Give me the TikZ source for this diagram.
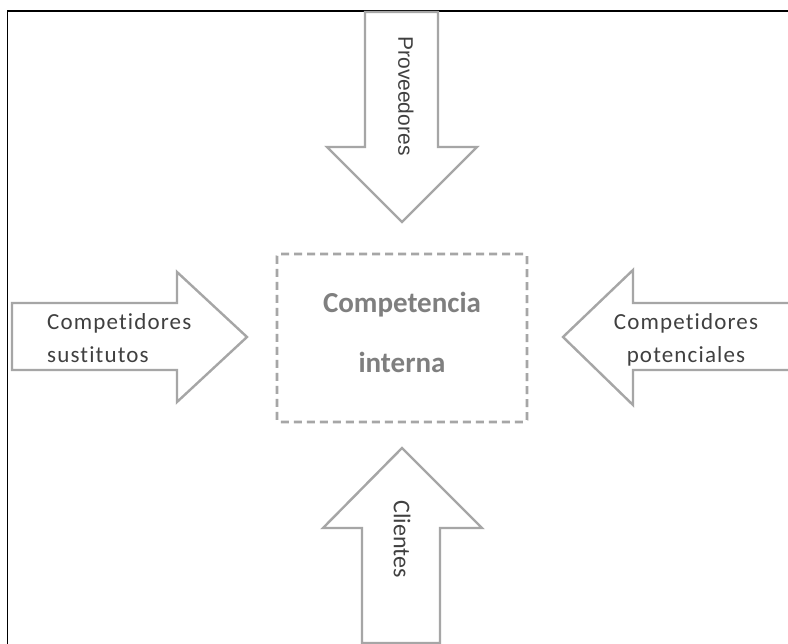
\documentclass[tikz,border=0pt]{standalone}
\usepackage{fontspec}
\setmainfont{Carlito}[RawFeature=-liga]
\newfontfamily\arialfont{Liberation Sans}
\newfontfamily\spacedfont[LetterSpace=5,RawFeature=-liga]{Carlito}
\definecolor{arrowgray}{HTML}{A6A6A6}
\definecolor{labelgray}{HTML}{404040}
\definecolor{titlegray}{HTML}{7F7F7F}
\begin{document}
\begin{tikzpicture}[x=1pt,y=-1pt,
  bigarrow/.style={draw=arrowgray,line width=2.4pt,fill=white,line join=miter},
  label/.style={text=labelgray,inner sep=0pt},
  sidelabel/.style={label,font=\spacedfont\fontsize{23}{33}\selectfont},
  corebox/.style={draw=arrowgray,line width=2.8pt,dash pattern=on 8pt off 5pt,rounded corners=2pt}]
\useasboundingbox (0,0) rectangle (788,644);
\fill[white] (0,0) rectangle (788,644);
% outer frame (top and left edges)
\draw[black,line width=1.6pt] (788,11) -- (7.5,11) -- (7.5,644);

% top arrow: Proveedores
\draw[bigarrow] (365,12) -- (438,12) -- (438,147) -- (477,147) -- (402,222)
  -- (327,147) -- (365,147) -- cycle;
\node[label,font=\arialfont\fontsize{21}{21}\selectfont,rotate=-90] (prov) at (406,96) {Proveedores};

% bottom arrow: Clientes
\draw[bigarrow] (362,643) -- (362,528) -- (323,528) -- (402,448) -- (482,528)
  -- (440,528) -- (440,643) -- cycle;
\node[label,font=\fontsize{24}{24}\selectfont,rotate=-90] (cli) at (402,539) {Clientes};

% left arrow: Competidores sustitutos
\draw[bigarrow] (12,303) -- (177,303) -- (177,272) -- (247,337) -- (177,402)
  -- (177,370) -- (12,370) -- cycle;
\node[sidelabel,align=left,anchor=base west] (sust) at (47,363) {Competidores\\sustitutos};

% right arrow: Competidores potenciales
\draw[bigarrow] (790,303) -- (633,303) -- (633,270) -- (563,337) -- (633,405)
  -- (633,370) -- (790,370);
\node[sidelabel,align=center,anchor=base] (pot) at (686,363) {Competidores\\potenciales};

% central dashed box
\draw[corebox] (277,254) rectangle (527,422);
\node[text=titlegray,inner sep=0pt,font=\bfseries\fontsize{29}{60}\selectfont,align=center,anchor=base] (core) at (402,373) {Competencia\\interna};
\end{tikzpicture}
\end{document}
